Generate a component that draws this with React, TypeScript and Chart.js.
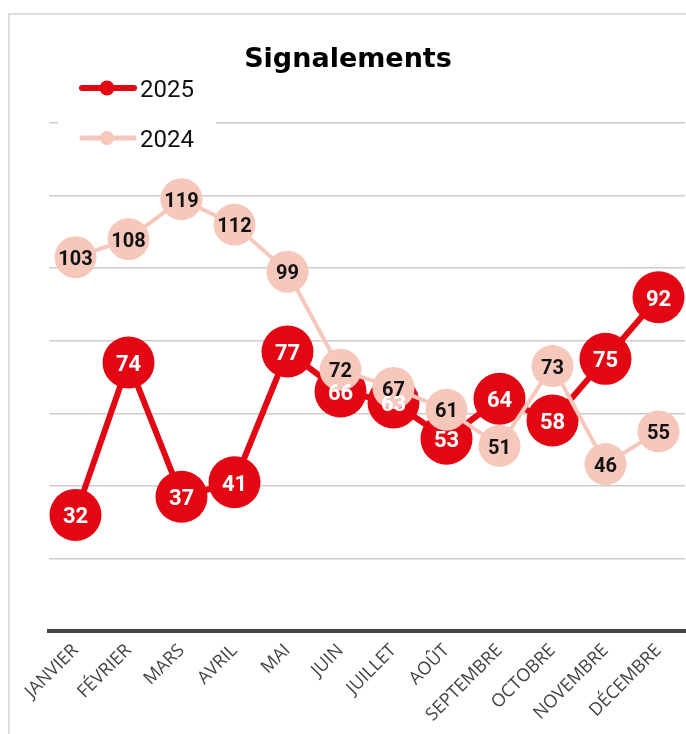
import React, { useEffect, useRef } from "react";
import { Chart, registerables } from "chart.js";

Chart.register(...registerables);

const months = ["JANVIER", "FÉVRIER", "MARS", "AVRIL", "MAI", "JUIN", "JUILLET", "AOÛT", "SEPTEMBRE", "OCTOBRE", "NOVEMBRE", "DÉCEMBRE"];
const values2025 = [32, 74, 37, 41, 77, 66, 63, 53, 64, 58, 75, 92];
const values2024 = [103, 108, 119, 112, 99, 72, 67, 61, 51, 73, 46, 55];
const seriesNames = ["2025", "2024"];
const chartTitle = "Signalements";

const RED = "#E30613";
const PINK = "#F6C8BC";

const labelsPlugin = {
  id: "customLabels",
  afterDatasetsDraw(chart: any) {
    const ctx = chart.ctx;
    ctx.save();
    ctx.textAlign = "center";
    ctx.textBaseline = "alphabetic";
    const specs = [
      { idx: 0, color: "#ffffff", size: 22 },
      { idx: 1, color: "#111111", size: 20 },
    ];
    for (const s of specs) {
      const meta = chart.getDatasetMeta(s.idx);
      const data = chart.data.datasets[s.idx].data;
      ctx.font = `bold ${s.size}px Roboto`;
      ctx.fillStyle = s.color;
      meta.data.forEach((pt: any, i: number) => {
        ctx.fillText(String(data[i]), pt.x, pt.y + s.size * 0.36 + 0.5);
      });
    }
    ctx.restore();
  },
  afterDraw(chart: any) {
    const ctx = chart.ctx;
    ctx.save();
    // title
    ctx.font = "bold 27px 'DejaVu Sans'";
    ctx.fillStyle = "#000";
    ctx.textAlign = "center";
    ctx.textBaseline = "alphabetic";
    ctx.fillText(chartTitle, chart.width / 2, 52);
    // legend background
    ctx.fillStyle = "#ffffff";
    ctx.fillRect(48, 95, 158, 55);
    const items = [
      { name: seriesNames[0], color: RED, lw: 6, r: 7.5, y: 73, base: 81.7 },
      { name: seriesNames[1], color: PINK, lw: 5, r: 7, y: 123, base: 132 },
    ];
    for (const it of items) {
      ctx.strokeStyle = it.color;
      ctx.lineWidth = it.lw;
      ctx.lineCap = "round";
      ctx.beginPath();
      ctx.moveTo(72, it.y);
      ctx.lineTo(124, it.y);
      ctx.stroke();
      ctx.fillStyle = it.color;
      ctx.beginPath();
      ctx.arc(97, it.y, it.r, 0, Math.PI * 2);
      ctx.fill();
      ctx.fillStyle = "#111";
      ctx.font = "24px Roboto";
      ctx.textAlign = "left";
      ctx.fillText(it.name, 130, it.base);
    }
    ctx.restore();
  },
};

export default function App() {
  const ref = useRef<HTMLCanvasElement>(null);
  useEffect(() => {
    if (!ref.current) return;
    const chart = new Chart(ref.current, {
      type: "line",
      data: {
        labels: months,
        datasets: [
          {
            label: seriesNames[0],
            data: values2025,
            borderColor: RED,
            backgroundColor: RED,
            borderWidth: 6,
            pointRadius: 26,
            pointBorderWidth: 0,
            pointBackgroundColor: RED,
            tension: 0,
            order: 1,
            clip: false as any,
          },
          {
            label: seriesNames[1],
            data: values2024,
            borderColor: PINK,
            backgroundColor: PINK,
            borderWidth: 4,
            pointRadius: 21,
            pointBorderWidth: 0,
            pointBackgroundColor: PINK,
            tension: 0,
            order: 0,
            clip: false as any,
          },
        ],
      },
      options: {
        responsive: false,
        animation: false,
        devicePixelRatio: 1,
        layout: { autoPadding: false, padding: { left: 39, right: 1, top: 108, bottom: 0 } },
        plugins: {
          legend: { display: false },
          title: { display: false },
          tooltip: { enabled: false },
        },
        scales: {
          x: {
            offset: true,
            grid: { display: false, drawTicks: false },
            border: { display: true, color: "#444", width: 4 },
            ticks: {
              color: "#444",
              font: { family: "'Open Sans'", size: 18 },
              maxRotation: 45,
              minRotation: 45,
              padding: 9,
              autoSkip: false,
            },
            afterFit: (scale: any) => {
              scale.height = 103;
            },
          },
          y: {
            min: 0,
            max: 140,
            ticks: { display: false, stepSize: 20 },
            grid: { color: "#cccccc", lineWidth: 1.5, drawTicks: false },
            border: { display: false },
            afterFit: (scale: any) => {
              scale.width = 0;
            },
          },
        },
      },
      plugins: [labelsPlugin],
    });
    return () => chart.destroy();
  }, []);
  return (
    <div
      style={{
        position: "absolute",
        left: 8,
        top: 13,
        width: 700,
        height: 730,
        borderTop: "2px solid #dddddd",
        borderLeft: "2px solid #dddddd",
        background: "#fff",
      }}
    >
      <canvas ref={ref} width={676} height={719} style={{ display: "block" }} />
    </div>
  );
}
